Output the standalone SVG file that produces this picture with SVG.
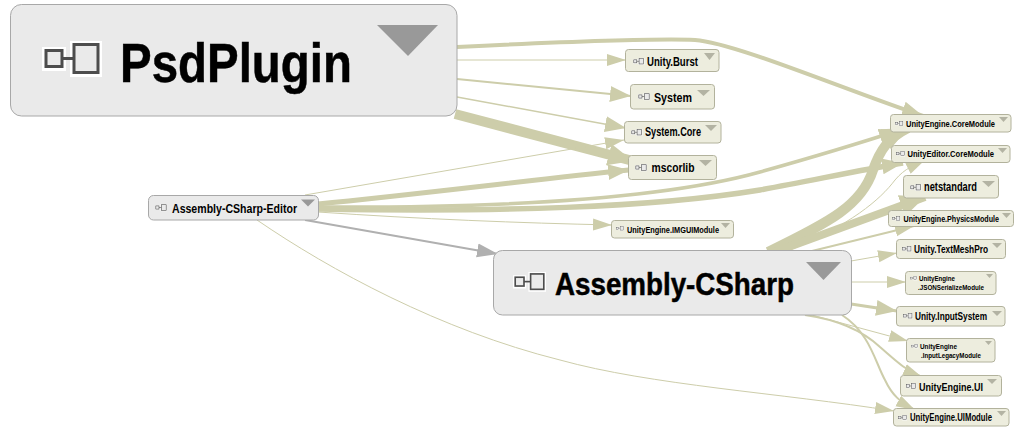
<svg xmlns="http://www.w3.org/2000/svg" width="1023" height="430" viewBox="0 0 1023 430">
<style>
text{font-family:"Liberation Sans",Arial,sans-serif;font-weight:700;fill:#000}
.b{fill:#ededde;stroke:#b2b29c;stroke-width:1}
.g{fill:#eaeaea;stroke:#a8a8a8;stroke-width:1}
.tb{fill:#b3b3a3}
.tg{fill:#999}
.e{fill:none;stroke:#cdcdaa}
.eg{fill:none;stroke:#b0b0b0}
.big{stroke:#000;stroke-width:.5}
</style>
<defs>
<marker id="as" markerUnits="userSpaceOnUse" markerWidth="20" markerHeight="14" refX="19" refY="7" orient="auto"><path d="M0,1 L19,7 L0,13z" fill="#cdcdaa"/></marker>
<marker id="am" markerUnits="userSpaceOnUse" markerWidth="22" markerHeight="18" refX="21" refY="9" orient="auto"><path d="M0,1 L21,9 L0,17z" fill="#cdcdaa"/></marker>
<marker id="al" markerUnits="userSpaceOnUse" markerWidth="26" markerHeight="24" refX="25" refY="12" orient="auto"><path d="M0,1 L25,12 L0,23z" fill="#cdcdaa"/></marker>
<marker id="ag" markerUnits="userSpaceOnUse" markerWidth="22" markerHeight="16" refX="21" refY="8" orient="auto"><path d="M0,1 L21,8 L0,15z" fill="#b0b0b0"/></marker>
<symbol id="ic" viewBox="0 0 60 36" width="60" height="36" overflow="visible">
<rect x="0" y="6" width="24" height="24" fill="#fff"/>
<rect x="28" y="0" width="32" height="36" fill="#fff"/>
<rect x="4" y="9.500" width="16" height="16" fill="#eaeaea" stroke="#4d4d4d" stroke-width="3"/>
<path d="M20,17.500H32" stroke="#4d4d4d" stroke-width="3"/>
<rect x="32" y="3.500" width="24" height="28" fill="#eaeaea" stroke="#4d4d4d" stroke-width="3"/>
</symbol>
</defs>
<g id="connectors">
<path class="e" stroke-width="4" marker-end="url(#am)" d="M457,47 C560,42 650,38 695,40 C735,43 840,88 923,116"/>
<path class="e" stroke-width="1" marker-end="url(#as)" d="M457,60 H626"/>
<path class="e" stroke-width="2" marker-end="url(#am)" d="M457,79 L631,96"/>
<path class="e" stroke-width="1.500" marker-end="url(#am)" d="M457,97 L626,128"/>
<path class="e" stroke-width="10" marker-end="url(#al)" d="M455,114 L633,161"/>
<path class="e" stroke-width="1" marker-end="url(#as)" d="M305,195 L624,140"/>
<path class="e" stroke-width="5" marker-end="url(#am)" d="M318,204 C420,194 530,180 629,170"/>
<path class="e" stroke-width="3.500" marker-end="url(#am)" d="M318,207 C500,208 660,200 760,172 C810,158 860,143 900,130"/>
<path class="e" stroke-width="5.500" marker-end="url(#am)" d="M318,209 C500,212 650,208 760,190 C810,181 860,170 903,163"/>
<path class="e" stroke-width="1" marker-end="url(#as)" d="M318,212 C420,219 520,223 612,225"/>
<path class="eg" stroke-width="2" marker-end="url(#ag)" d="M305,220 L498,254"/>
<path class="e" stroke-width="1" marker-end="url(#as)" d="M257,220 C330,270 440,330 560,360 C650,385 780,393 894,411"/>
<path class="e" stroke-width="10" marker-end="url(#al)" d="M768,252 C830,222 862,205 873,170 C880,150 888,138 908,128"/>
<path class="e" stroke-width="1" marker-end="url(#as)" d="M790,250 C850,225 880,200 895,180 C905,168 915,165 925,160"/>
<path class="e" stroke-width="8" marker-end="url(#al)" d="M775,252 L925,197"/>
<path class="e" stroke-width="2" marker-end="url(#as)" d="M812,251 L914,226"/>
<path class="e" stroke-width="1" marker-end="url(#as)" d="M851,261 L897,253"/>
<path class="e" stroke-width="1" marker-end="url(#as)" d="M851,282 H906"/>
<path class="e" stroke-width="3" marker-end="url(#am)" d="M851,304 L897,311"/>
<path class="e" stroke-width="1" marker-end="url(#as)" d="M808,314 L908,341"/>
<path class="e" stroke-width="2" marker-end="url(#as)" d="M805,315 C840,320 865,333 880,347 C895,360 905,370 922,377"/>
<path class="e" stroke-width="2" marker-end="url(#as)" d="M842,315 C870,333 875,362 885,380 C892,395 900,402 915,410"/>
</g>
<g id="node-PsdPlugin"><rect class="g" x="10.500" y="4.500" width="446.500" height="111.500" rx="11"/><path class="tg" d="M377,25H438L408,56z"/><use href="#ic" x="42" y="41"/><text class="big" x="120" y="82" font-size="55" textLength="232" lengthAdjust="spacingAndGlyphs">PsdPlugin</text></g>
<g id="node-Unity.Burst"><rect class="b" x="625.500" y="49.500" width="93.500" height="22" rx="3"/><path class="tb" d="M704,53H715L709.500,60z"/><use href="#ic" transform="translate(633,58) scale(.19)"/><text x="647" y="66" font-size="12" textLength="51" lengthAdjust="spacingAndGlyphs">Unity.Burst</text></g>
<g id="node-System"><rect class="b" x="630.500" y="84.500" width="84" height="24.500" rx="3"/><path class="tb" d="M697,90H710L703.500,96z"/><use href="#ic" transform="translate(638,93) scale(.2)"/><text x="654" y="102" font-size="12.500" textLength="38" lengthAdjust="spacingAndGlyphs">System</text></g>
<g id="node-System.Core"><rect class="b" x="624.500" y="121.500" width="96.500" height="21.500" rx="3"/><path class="tb" d="M705,125H717L711,131z"/><use href="#ic" transform="translate(631,129) scale(.19)"/><text x="645" y="136" font-size="12" textLength="56" lengthAdjust="spacingAndGlyphs">System.Core</text></g>
<g id="node-mscorlib"><rect class="b" x="628.500" y="155.500" width="88" height="24" rx="3"/><path class="tb" d="M699,160H712L705.500,166z"/><use href="#ic" transform="translate(635,164) scale(.2)"/><text x="651.500" y="172" font-size="12.500" textLength="43" lengthAdjust="spacingAndGlyphs">mscorlib</text></g>
<g id="node-UnityEngine.CoreModule"><rect class="b" x="890.500" y="114.500" width="120.500" height="17.500" rx="3"/><path class="tb" d="M999,117H1008L1003.500,122z"/><use href="#ic" transform="translate(895,121) scale(.14)"/><text x="906" y="127" font-size="9.500" textLength="89" lengthAdjust="spacingAndGlyphs">UnityEngine.CoreModule</text></g>
<g id="node-UnityEditor.CoreModule"><rect class="b" x="891.500" y="145.500" width="118.500" height="17" rx="3"/><path class="tb" d="M998,148H1007L1002.500,153z"/><use href="#ic" transform="translate(896,151) scale(.15)"/><text x="907.500" y="157" font-size="9.500" textLength="86.500" lengthAdjust="spacingAndGlyphs">UnityEditor.CoreModule</text></g>
<g id="node-netstandard"><rect class="b" x="903.500" y="175.500" width="95" height="22.500" rx="3"/><path class="tb" d="M982,181H995L988.500,187z"/><use href="#ic" transform="translate(910,184) scale(.19)"/><text x="924" y="191" font-size="12.500" textLength="53" lengthAdjust="spacingAndGlyphs">netstandard</text></g>
<g id="node-UnityEngine.PhysicsModule"><rect class="b" x="888.500" y="210.500" width="125" height="16" rx="3"/><path class="tb" d="M1002,213H1011L1006.500,218z"/><use href="#ic" transform="translate(892,216) scale(.14)"/><text x="903.500" y="222" font-size="9" textLength="95.500" lengthAdjust="spacingAndGlyphs">UnityEngine.PhysicsModule</text></g>
<g id="node-Unity.TextMeshPro"><rect class="b" x="896.500" y="239.500" width="109" height="19" rx="3"/><path class="tb" d="M992,243H1002L997,248z"/><use href="#ic" transform="translate(902,246) scale(.16)"/><text x="914" y="253" font-size="10.500" textLength="74" lengthAdjust="spacingAndGlyphs">Unity.TextMeshPro</text></g>
<g id="node-UnityEngine.JSONSerializeModule"><rect class="b" x="905.500" y="271.500" width="90.500" height="23" rx="3"/><path class="tb" d="M986,274H993L989.500,278z"/><use href="#ic" transform="translate(910,276) scale(.12)"/><text x="919" y="281" font-size="8" textLength="36" lengthAdjust="spacingAndGlyphs">UnityEngine</text><text x="918" y="290" font-size="8" textLength="66" lengthAdjust="spacingAndGlyphs">.JSONSerializeModule</text></g>
<g id="node-Unity.InputSystem"><rect class="b" x="896.500" y="306.500" width="108.500" height="19.500" rx="3"/><path class="tb" d="M992,311H1002L997,316z"/><use href="#ic" transform="translate(903,313) scale(.16)"/><text x="915" y="320" font-size="10.500" textLength="72" lengthAdjust="spacingAndGlyphs">Unity.InputSystem</text></g>
<g id="node-UnityEngine.InputLegacyModule"><rect class="b" x="906.500" y="338.500" width="88.500" height="23.500" rx="3"/><path class="tb" d="M985,341H992L988.500,345z"/><use href="#ic" transform="translate(911,344) scale(.12)"/><text x="920" y="349" font-size="8" textLength="37" lengthAdjust="spacingAndGlyphs">UnityEngine</text><text x="921" y="358" font-size="8" textLength="60" lengthAdjust="spacingAndGlyphs">.InputLegacyModule</text></g>
<g id="node-UnityEngine.UI"><rect class="b" x="900.500" y="375.500" width="101" height="20.500" rx="3"/><path class="tb" d="M987,379H997L992,384z"/><use href="#ic" transform="translate(906,383) scale(.17)"/><text x="919" y="391" font-size="11" textLength="64" lengthAdjust="spacingAndGlyphs">UnityEngine.UI</text></g>
<g id="node-UnityEngine.UIModule"><rect class="b" x="893.500" y="408.500" width="115.500" height="17.500" rx="3"/><path class="tb" d="M997,411H1006L1001.500,416z"/><use href="#ic" transform="translate(898,415) scale(.15)"/><text x="910" y="421" font-size="10" textLength="82" lengthAdjust="spacingAndGlyphs">UnityEngine.UIModule</text></g>
<g id="node-UnityEngine.IMGUIModule"><rect class="b" x="611.500" y="220.500" width="122" height="17.500" rx="3"/><path class="tb" d="M721,223H730L725.500,228z"/><use href="#ic" transform="translate(616,226) scale(.13)"/><text x="627" y="233" font-size="9" textLength="92" lengthAdjust="spacingAndGlyphs">UnityEngine.IMGUIModule</text></g>
<g id="node-Assembly-CSharp-Editor"><rect class="g" x="148.500" y="195.500" width="170" height="24.500" rx="5"/><path class="tg" d="M301,199.500H315L308,206.500z"/><use href="#ic" transform="translate(155,204) scale(.2)"/><text x="172" y="213" font-size="12.500" textLength="125" lengthAdjust="spacingAndGlyphs">Assembly-CSharp-Editor</text></g>
<g id="node-Assembly-CSharp"><rect class="g" x="493.500" y="250.500" width="358" height="64.500" rx="9"/><path class="tg" d="M806,262H841L823.500,280z"/><use href="#ic" transform="translate(513,272) scale(.55)"/><text class="big" x="555" y="295" font-size="31" textLength="239" lengthAdjust="spacingAndGlyphs">Assembly-CSharp</text></g>
</svg>
